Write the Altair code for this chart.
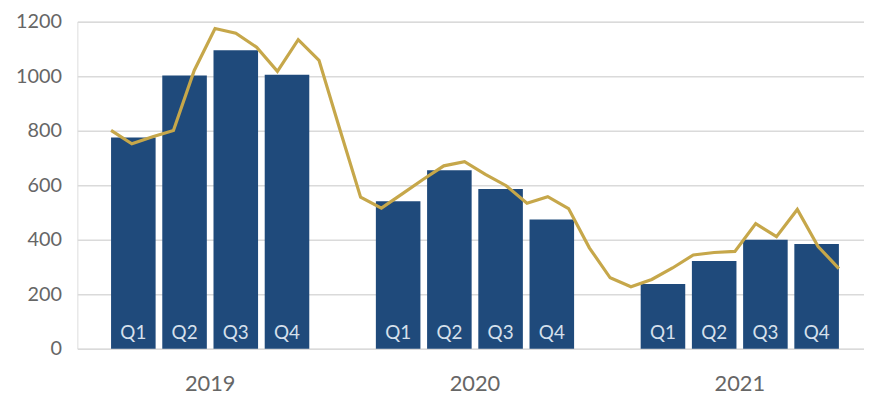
import altair as alt
import pandas as pd

# ---- data ----
years = ["2019", "2020", "2021"]
quarters = ["Q1", "Q2", "Q3", "Q4"]
quarterly_values = [
    775, 1003, 1095, 1005,   # 2019
    541, 655, 586, 474,      # 2020
    237, 322, 400, 384,      # 2021
]
monthly_values = [
    801, 752, 778, 801, 1021, 1175, 1158, 1106, 1018, 1134, 1058, 805,   # 2019
    556, 516, 568, 621, 671, 686, 640, 598, 534, 558, 514, 370,         # 2020
    260, 227, 254, 296, 344, 353, 357, 459, 411, 511, 375, 294,         # 2021
]
y_ticks = [0, 200, 400, 600, 800, 1000, 1200]

# ---- layout constants (slot units) ----
GROUP = 5.17      # distance between year groups, in bar slots
HALF = 0.435      # half bar width, in bar slots
W, H = 794, 330

bars = pd.DataFrame({
    "year": [y for y in years for _ in quarters],
    "quarter": quarters * len(years),
    "yi": [i for i in range(len(years)) for _ in quarters],
    "qi": list(range(len(quarters))) * len(years),
    "value": quarterly_values,
})
months = pd.DataFrame({"mi": list(range(len(monthly_values))), "value": monthly_values})
year_df = pd.DataFrame({"year": years, "yi": list(range(len(years)))})

span = 2 * GROUP + 3 + 2 * HALF
xscale = alt.Scale(domain=[-1.093, 14.265], nice=False, zero=False)
yscale = alt.Scale(domain=[0, 1200], nice=False)

NAVY = "#1F4A7B"
GOLD = "#C6A74A"
GRAY = "#666666"
FONT = "Lato"

base_bars = alt.Chart(bars).transform_calculate(
    pos=f"datum.yi * {GROUP} + datum.qi",
    left=f"datum.yi * {GROUP} + datum.qi - {HALF}",
    right=f"datum.yi * {GROUP} + datum.qi + {HALF}",
)

bar_layer = base_bars.mark_bar(color=NAVY).encode(
    x=alt.X("left:Q", scale=xscale, axis=None),
    x2="right:Q",
    y=alt.Y(
        "value:Q",
        scale=yscale,
        axis=alt.Axis(
            values=y_ticks,
            format="d",
            title=None,
            domain=False,
            ticks=False,
            grid=True,
            gridColor="#dadada",
            gridWidth=1.5,
            labelFont=FONT,
            labelFontSize=20,
            labelColor=GRAY,
            labelPadding=16,
        ),
    ),
    y2=alt.datum(0),
)

q_labels = base_bars.mark_text(
    color="#d6e0ec", font=FONT, fontSize=19, baseline="alphabetic", dy=-10
).encode(
    x=alt.X("pos:Q", scale=xscale),
    y=alt.datum(0),
    text="quarter:N",
)

line_layer = alt.Chart(months).transform_calculate(
    mx=f"datum.mi * {span} / {len(monthly_values) - 1} - {HALF}"
).mark_line(color=GOLD, strokeWidth=3.2).encode(
    x=alt.X("mx:Q", scale=xscale),
    y=alt.Y("value:Q", scale=yscale),
)

year_labels = alt.Chart(year_df).transform_calculate(
    cx=f"datum.yi * {GROUP} + 1.5"
).mark_text(
    color=GRAY, font=FONT, fontSize=22, baseline="alphabetic"
).encode(
    x=alt.X("cx:Q", scale=xscale),
    y=alt.value(H + 43),
    text="year:N",
)

chart = (
    alt.layer(bar_layer, q_labels, line_layer, year_labels)
    .properties(
        width=W,
        height=H,
        autosize=alt.AutoSizeParams(type="none"),
        padding={"left": 70, "top": 12, "right": 0, "bottom": 50},
    )
    .configure_view(stroke=None)
    .configure(background="white")
)

chart.save("out.html", embed_options={"renderer": "svg", "actions": False})
